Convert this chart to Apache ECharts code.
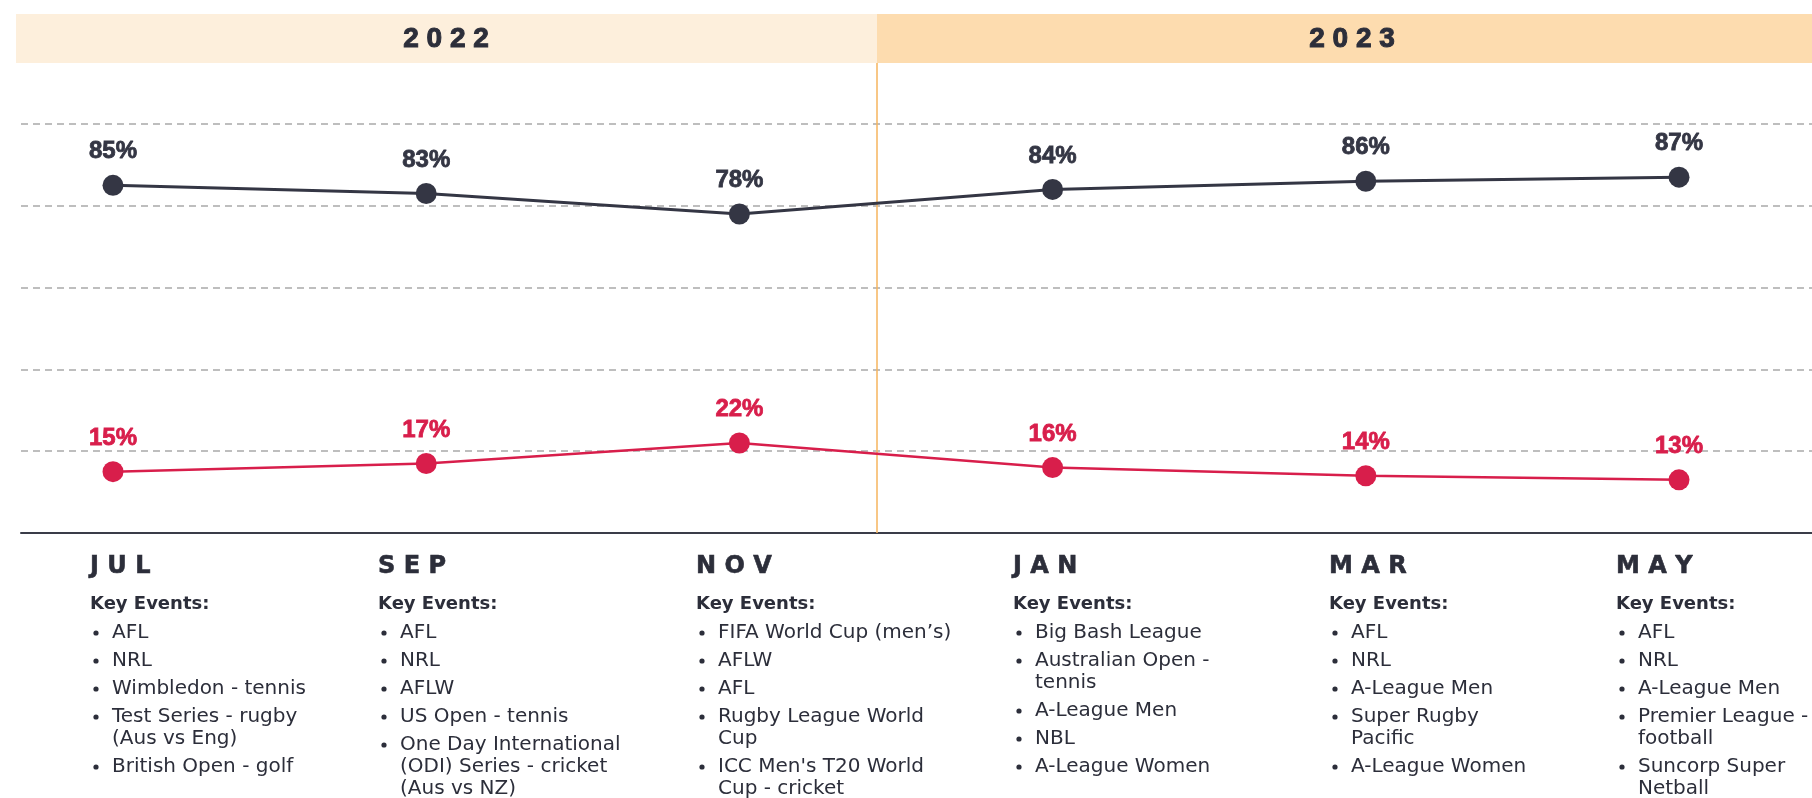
<!DOCTYPE html>
<html>
<head>
<meta charset="utf-8">
<script src="https://cdn.jsdelivr.net/npm/echarts@6/dist/echarts.min.js"></script>
<style>
html,body{margin:0;padding:0;background:#fff;}
#chart{width:1812px;height:798px;}
</style>
</head>
<body>
<div id="chart"></div>
<script>
// ---- data ----
var months = ['JUL', 'SEP', 'NOV', 'JAN', 'MAR', 'MAY'];
var darkSeries = [85, 83, 78, 84, 86, 87];
var redSeries = [15, 17, 22, 16, 14, 13];
var years = ['2022', '2023'];
var yTicks = [0, 20, 40, 60, 80, 100];
var eventsJUL = ['AFL', 'NRL', 'Wimbledon - tennis', 'Test Series - rugby\n(Aus vs Eng)', 'British Open - golf'];
var eventsSEP = ['AFL', 'NRL', 'AFLW', 'US Open - tennis', 'One Day International\n(ODI) Series - cricket\n(Aus vs NZ)'];
var eventsNOV = ['FIFA World Cup (men\u2019s)', 'AFLW', 'AFL', 'Rugby League World\nCup', "ICC Men's T20 World\nCup - cricket"];
var eventsJAN = ['Big Bash League', 'Australian Open -\ntennis', 'A-League Men', 'NBL', 'A-League Women'];
var eventsMAR = ['AFL', 'NRL', 'A-League Men', 'Super Rugby\nPacific', 'A-League Women'];
var eventsMAY = ['AFL', 'NRL', 'A-League Men', 'Premier League -\nfootball', 'Suncorp Super\nNetball'];
var eventsByMonth = [eventsJUL, eventsSEP, eventsNOV, eventsJAN, eventsMAR, eventsMAY];

// ---- style ----
var DARK = '#343644';
var RED = '#D81E4B';
var TEXT = '#2c2e3a';
var FONT = '"Liberation Sans", Arial, sans-serif';
var FONT2 = '"DejaVu Sans", sans-serif';
var colLeft = [90, 378, 696, 1013, 1329, 1616];

function spaced(s) { return s.split('').join(' '); }

var graphics = [];
// year bands
graphics.push({ type: 'rect', shape: { x: 16, y: 14, width: 861, height: 49 }, style: { fill: '#FDEFDC' }, z: 0 });
graphics.push({ type: 'rect', shape: { x: 877, y: 14, width: 940, height: 49 }, style: { fill: '#FDDCAF' }, z: 0 });
graphics.push({ type: 'text', style: { text: spaced(years[0]), x: 446, y: 39, fill: TEXT, stroke: TEXT, lineWidth: 1, font: 'bold 28px ' + FONT, align: 'center', verticalAlign: 'middle' }, z: 2 });
graphics.push({ type: 'text', style: { text: spaced(years[1]), x: 1352, y: 39, fill: TEXT, stroke: TEXT, lineWidth: 1, font: 'bold 28px ' + FONT, align: 'center', verticalAlign: 'middle' }, z: 2 });
// divider
graphics.push({ type: 'line', shape: { x1: 877, y1: 63, x2: 877, y2: 533 }, style: { stroke: '#F6B45E', lineWidth: 1.5 }, z: 1 });

// bottom columns
months.forEach(function (m, i) {
  var x = colLeft[i];
  graphics.push({ type: 'text', style: { text: spaced(m), x: x, y: 567, fill: TEXT, stroke: TEXT, lineWidth: 0.6, font: 'bold 24px ' + FONT2, align: 'left', verticalAlign: 'middle' } });
  graphics.push({ type: 'text', style: { text: 'Key Events:', x: x, y: 604, fill: TEXT, font: 'bold 18px ' + FONT2, align: 'left', verticalAlign: 'middle' } });
  var y = 633;
  eventsByMonth[i].forEach(function (ev) {
    var lines = ev.split('\n').length;
    graphics.push({ type: 'circle', shape: { cx: x + 6, cy: y, r: 2.6 }, style: { fill: TEXT } });
    graphics.push({ type: 'text', style: { text: ev, x: x + 22, y: y - 11, fill: TEXT, font: '20px ' + FONT2, lineHeight: 22, align: 'left', verticalAlign: 'top' } });
    y += 28 + 22 * (lines - 1);
  });
});

var chart = echarts.init(document.getElementById('chart'), null, { renderer: 'canvas' });
chart.setOption({
  animation: false,
  backgroundColor: '#fff',
  grid: [
    { left: 21, right: 0, top: 124, bottom: 265 },
    { left: 113, right: 133, top: 124, bottom: 265 }
  ],
  xAxis: [
    { gridIndex: 0, type: 'value', min: 0, max: 1, axisLine: { show: true, onZero: false, lineStyle: { color: '#3a3c48', width: 2 } }, axisTick: { show: false }, axisLabel: { show: false }, splitLine: { show: false } },
    { gridIndex: 1, type: 'category', data: months, boundaryGap: false, axisLine: { show: false }, axisTick: { show: false }, axisLabel: { show: false }, splitLine: { show: false } }
  ],
  yAxis: [
    { gridIndex: 0, type: 'value', min: yTicks[0], max: yTicks[yTicks.length - 1], interval: 20, axisLine: { show: false }, axisTick: { show: false }, axisLabel: { show: false },
      splitLine: { show: true, lineStyle: { color: '#a9a9a9', type: [7, 5], width: 1.5 } } },
    { gridIndex: 1, type: 'value', min: 0, max: 100, show: false, splitLine: { show: false } }
  ],
  series: [
    { name: 'dark', type: 'line', xAxisIndex: 1, yAxisIndex: 1, data: darkSeries, symbol: 'circle', symbolSize: 21,
      lineStyle: { color: DARK, width: 3 }, itemStyle: { color: DARK }, z: 5,
      label: { show: true, position: 'top', distance: 11, formatter: '{c}%', color: DARK, textBorderColor: DARK, textBorderWidth: 0.8, fontFamily: FONT, fontWeight: 'bold', fontSize: 24 } },
    { name: 'red', type: 'line', xAxisIndex: 1, yAxisIndex: 1, data: redSeries, symbol: 'circle', symbolSize: 21,
      lineStyle: { color: RED, width: 2.5 }, itemStyle: { color: RED }, z: 5,
      label: { show: true, position: 'top', distance: 11, formatter: '{c}%', color: RED, textBorderColor: RED, textBorderWidth: 0.8, fontFamily: FONT, fontWeight: 'bold', fontSize: 24 } }
  ],
  graphic: graphics
});
</script>
</body>
</html>
